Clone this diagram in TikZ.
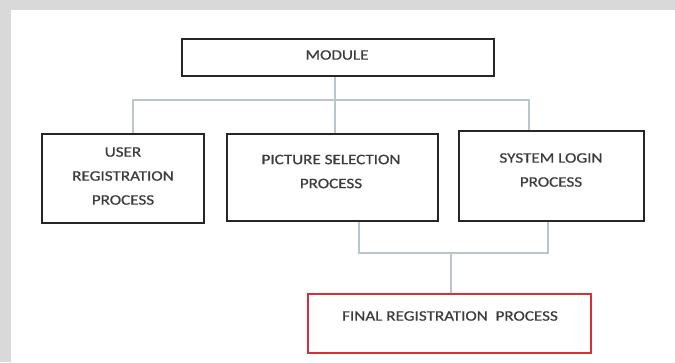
\documentclass[tikz,border=0pt]{standalone}
\usepackage{fontspec}
\setmainfont{Carlito}[FakeStretch=1.18,FakeBold=0.6]
\definecolor{bggray}{HTML}{D9D9D9}
\definecolor{txtgray}{HTML}{3C3C3C}
\definecolor{linkc}{HTML}{B9C6CC}
\definecolor{redc}{HTML}{D6303A}
\begin{document}
\begin{tikzpicture}[x=1pt,y=-1pt,
  box/.style={draw=black!85,line width=1.8pt,fill=white},
  redbox/.style={draw=redc,line width=1.8pt,fill=white},
  lbl/.style={text=txtgray,font=\fontsize{14.5}{24}\selectfont,align=center,inner sep=0pt},
  link/.style={draw=linkc,line width=1.2pt}]
\useasboundingbox (0,0) rectangle (675,362);
\fill[bggray] (0,0) rectangle (675,362);
\fill[white] (11,10) rectangle (675,362);
% boxes
\node[box,minimum width=312pt,minimum height=37pt,inner sep=0pt] (mod) at (338,57.5) {};
\node[box,minimum width=162pt,minimum height=89pt,inner sep=0pt] (usr) at (123,178.5) {};
\node[box,minimum width=211pt,minimum height=87pt,inner sep=0pt] (pic) at (332.5,177.5) {};
\node[box,minimum width=185pt,minimum height=90pt,inner sep=0pt] (sys) at (551.5,176) {};
\node[redbox,minimum width=283pt,minimum height=59pt,inner sep=0pt] (fin) at (449.5,323.5) {};
% labels
\node[lbl] (tmod) at (337,55) {MODULE};
\node[lbl] (tusr) at (123,176) {USER\\REGISTRATION\\PROCESS};
\node[lbl] (tpic) at (331,171.5) {PICTURE SELECTION\\PROCESS};
\node[lbl] (tsys) at (551,170) {SYSTEM LOGIN\\PROCESS};
\node[lbl] (tfin) at (450,316) {FINAL REGISTRATION\ \ PROCESS};
% connectors
\coordinate (hL) at (133,100);
\coordinate (hR) at (529,100);
\coordinate (jL) at (359,253);
\coordinate (jR) at (548,253);
\coordinate (jM) at (451,253);
\draw[link] (mod.south -| 335,0) -- (pic.north -| 335,0);
\draw[link] (usr.north -| hL) -- (hL) -- (hR) -- (sys.north -| hR);
\draw[link] (pic.south -| jL) -- (jL) -- (jR) -- (sys.south -| jR);
\draw[link] (jM) -- (fin.north -| jM);
\end{tikzpicture}
\end{document}
